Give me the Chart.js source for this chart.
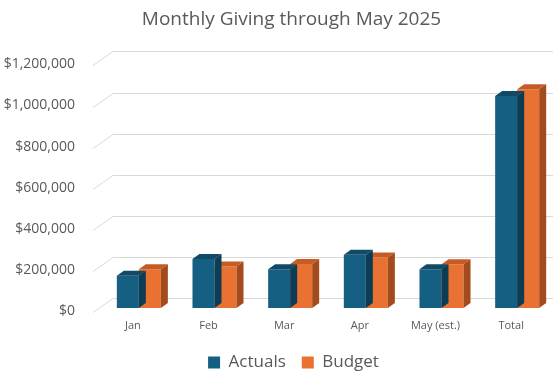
<!DOCTYPE html>
<html><head><meta charset="utf-8">
<script src="https://cdn.jsdelivr.net/npm/chart.js@4/dist/chart.umd.min.js"></script>
<style>html,body{margin:0;padding:0;background:#fff;overflow:hidden}</style>
</head><body>
<canvas id="c" width="555" height="374"></canvas>
<script>
const categories = ['Jan', 'Feb', 'Mar', 'Apr', 'May (est.)', 'Total'];
const actuals = [157000, 238000, 189000, 259000, 189000, 1032000];
const budget = [189000, 202000, 214000, 246000, 213000, 1064000];
const yTickValues = [0, 200000, 400000, 600000, 800000, 1000000, 1200000];
const seriesNames = ['Actuals', 'Budget'];

const frontColors = ['#156082', '#E97132'];
const faceColors = [{top: '#104a66', side: '#0d3d54'}, {top: '#c55c25', side: '#a34b1d'}];
const DX = 7, DY = -5;

const backGrid = {
  id: 'backGrid',
  beforeDatasetsDraw(chart) {
    const ctx = chart.ctx, ys = chart.scales.y, ca = chart.chartArea;
    ctx.save();
    ctx.strokeStyle = '#d9d9d9';
    ctx.lineWidth = 1;
    ys.ticks.forEach(t => {
      const y = Math.round(ys.getPixelForValue(t.value)) + 0.5;
      ctx.beginPath();
      ctx.moveTo(ca.left - 8, y + 4);
      ctx.lineTo(ca.left + 12, y - 10);
      ctx.lineTo(ca.right - 2, y - 10);
      ctx.stroke();
    });
    ctx.restore();
  }
};

const bar3d = {
  id: 'bar3d',
  afterDatasetDraw(chart, args) {
    const ctx = chart.ctx;
    const fc = faceColors[args.index];
    args.meta.data.forEach(bar => {
      const p = bar.getProps(['x', 'y', 'base', 'width'], true);
      const l = p.x - p.width / 2, r = p.x + p.width / 2;
      const t = Math.min(p.y, p.base), b = Math.max(p.y, p.base);
      ctx.save();
      ctx.fillStyle = fc.top;
      ctx.beginPath();
      ctx.moveTo(l, t); ctx.lineTo(r, t); ctx.lineTo(r + DX, t + DY); ctx.lineTo(l + DX, t + DY);
      ctx.closePath(); ctx.fill();
      ctx.fillStyle = fc.side;
      ctx.beginPath();
      ctx.moveTo(r, t); ctx.lineTo(r + DX, t + DY); ctx.lineTo(r + DX, b + DY); ctx.lineTo(r, b);
      ctx.closePath(); ctx.fill();
      ctx.restore();
    });
  }
};

// centre title and legend slightly right of the canvas centre, like the original
const boxShift = {
  id: 'boxShift',
  afterLayout(chart) {
    if (chart.titleBlock) { chart.titleBlock.left = 28; }
    if (chart.legend) { chart.legend.left = 32; }
  }
};

Chart.defaults.font.family = '"Open Sans", "Liberation Sans", sans-serif';

new Chart(document.getElementById('c'), {
  type: 'bar',
  data: {
    labels: categories,
    datasets: [
      {label: seriesNames[0], data: actuals, backgroundColor: frontColors[0], borderWidth: 0},
      {label: seriesNames[1], data: budget, backgroundColor: frontColors[1], borderWidth: 0}
    ]
  },
  options: {
    responsive: false,
    animation: false,
    devicePixelRatio: 1,
    categoryPercentage: 0.582,
    barPercentage: 1,
    layout: {padding: {left: 0, right: 0, top: 0, bottom: -7}},
    plugins: {
      title: {display: true, text: 'Monthly Giving through May 2025', color: '#595959',
        font: {size: 19, weight: 'normal'}, padding: {top: 8, bottom: 30.6}},
      legend: {position: 'bottom', labels: {color: '#595959', font: {size: 17}, boxWidth: 12, boxHeight: 12, padding: 16}},
      tooltip: {enabled: false}
    },
    scales: {
      x: {
        grid: {display: false, drawTicks: false},
        border: {display: false},
        ticks: {color: '#595959', font: {size: 11}, labelOffset: -6, padding: 11, maxRotation: 0, autoSkip: false},
        afterFit(s) { s.height = 30; }
      },
      y: {
        min: 0, max: 1200000,
        grid: {display: false, drawTicks: false},
        border: {display: false},
        afterBuildTicks(s) { s.ticks = yTickValues.map(v => ({value: v})); },
        ticks: {color: '#595959', font: {size: 14}, padding: 26, labelOffset: 3,
          callback: v => '$' + Number(v).toLocaleString('en-US')},
        afterFit(s) { s.width = 101; }
      }
    }
  },
  plugins: [backGrid, bar3d, boxShift]
});
</script>
</body></html>
